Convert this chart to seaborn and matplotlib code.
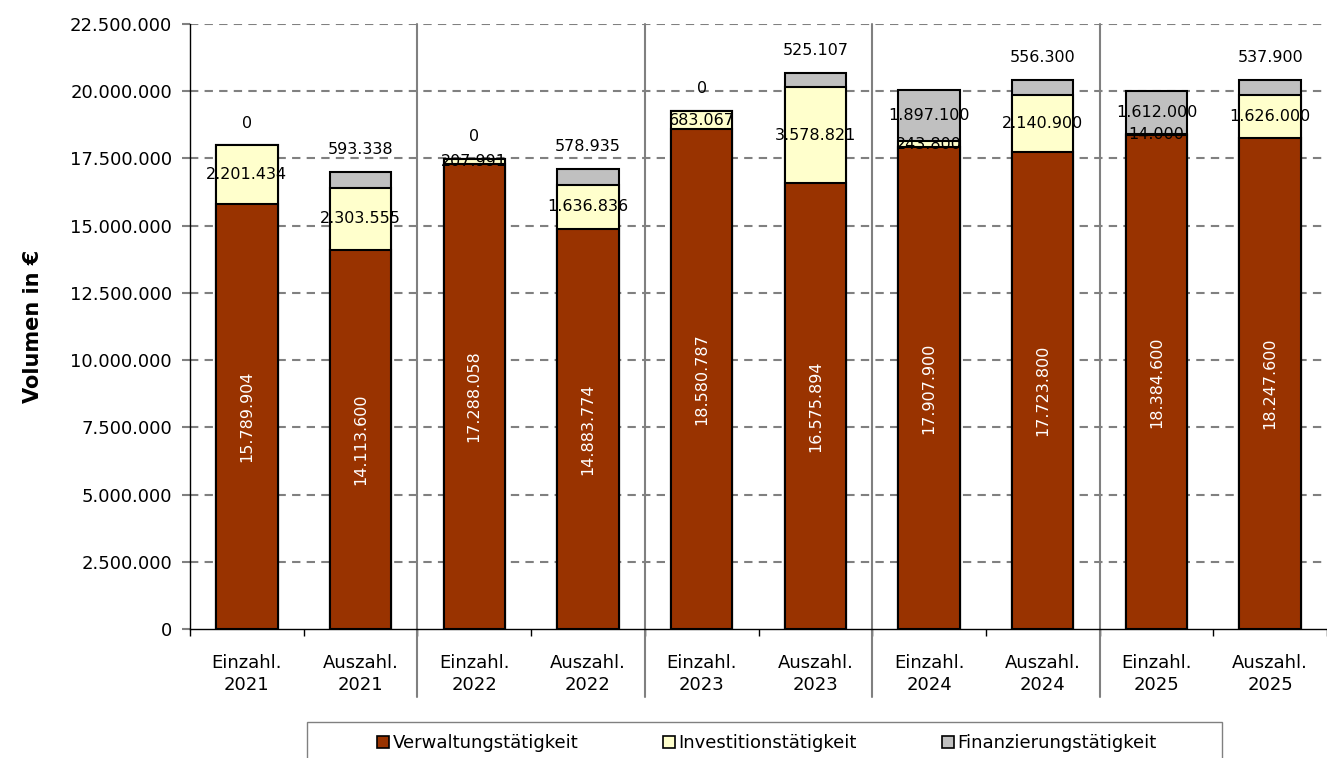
import pandas as pd
import seaborn as sns
import matplotlib
import matplotlib.pyplot as plt
from matplotlib.patches import Patch, Rectangle

matplotlib.use("Agg")

# ----------------------------
# Data (values in EUR)
categories = ["Einzahl.\n2021", "Auszahl.\n2021", "Einzahl.\n2022", "Auszahl.\n2022",
              "Einzahl.\n2023", "Auszahl.\n2023", "Einzahl.\n2024", "Auszahl.\n2024",
              "Einzahl.\n2025", "Auszahl.\n2025"]
verwaltung = [15789904, 14113600, 17288058, 14883774, 18580787,
              16575894, 17907900, 17723800, 18384600, 18247600]
investition = [2201434, 2303555, 207991, 1636836, 683067,
               3578821, 243800, 2140900, 14000, 1626000]
finanzierung = [0, 593338, 0, 578935, 0,
                525107, 1897100, 556300, 1612000, 537900]
series_names = ["Verwaltungstätigkeit", "Investitionstätigkeit", "Finanzierungstätigkeit"]
colors = ["#993300", "#FFFFCC", "#C0C0C0"]
# ----------------------------

sns.set_style("white")
plt.rcParams["font.family"] = ["DejaVu Sans"]
plt.rcParams["text.color"] = "black"
plt.rcParams["xtick.color"] = "black"
plt.rcParams["ytick.color"] = "black"
plt.rcParams["axes.labelcolor"] = "black"

df = pd.DataFrame({
    "cat": categories,
    "V": verwaltung,
    "I": investition,
    "F": finanzierung,
})
df["VI"] = df["V"] + df["I"]
df["VIF"] = df["VI"] + df["F"]

fig = plt.figure(figsize=(13.27, 7.58), dpi=100)
ax = fig.add_axes([190 / 1327, 1 - 629 / 758, 1 - 190 / 1327, (629 - 24) / 758])

# gridlines first (behind bars)
yticks = [i * 2500000 for i in range(10)]
for yv in yticks[1:]:
    ax.axhline(yv, color="#808080", lw=1.5, ls=(0, (4, 3)), zorder=0)

# stacked bars: draw cumulative totals from back to front
bar_kw = dict(order=categories, width=0.54, saturation=1, edgecolor="black",
              linewidth=1.5, ax=ax, zorder=2)
sns.barplot(data=df, x="cat", y="VIF", color=colors[2], **bar_kw)
sns.barplot(data=df, x="cat", y="VI", color=colors[1], **bar_kw)
sns.barplot(data=df, x="cat", y="V", color=colors[0], **bar_kw)


def fmt(v):
    return f"{v:,.0f}".replace(",", ".")


# data labels
for i, row in df.iterrows():
    ax.text(i, row["V"] / 2, fmt(row["V"]), rotation=90, ha="center", va="center",
            color="white", fontsize=11.5, zorder=5)
    ax.text(i, row["V"] + row["I"] / 2, fmt(row["I"]), ha="center", va="center",
            color="black", fontsize=11.5, zorder=5)
    if row["F"] < 1000000:
        ax.annotate(fmt(row["F"]), (i, row["VIF"]), xytext=(0, 16),
                    textcoords="offset points", ha="center", va="center",
                    fontsize=11.5, zorder=5)
    else:
        ax.text(i, row["VI"] + row["F"] / 2, fmt(row["F"]), ha="center", va="center",
                color="black", fontsize=11.5, zorder=5)

# axes styling
ax.set_ylim(0, 22500000)
ax.set_xlim(-0.5, len(categories) - 0.5)
ax.set_yticks(yticks)
ax.set_yticklabels([fmt(v) for v in yticks], fontsize=13)
ax.tick_params(axis="y", direction="out", length=6, width=1.5, color="#808080", pad=7, left=True)
ax.set_xticks(range(len(categories)))
ax.set_xticklabels(categories, fontsize=13, linespacing=1.3)
ax.tick_params(axis="x", which="major", length=0, pad=18)
ax.set_xticks([i - 0.5 for i in range(len(categories) + 1)], minor=True)
ax.tick_params(axis="x", which="minor", direction="out", length=5, width=1, color="black", bottom=True)
ax.set_xlabel("")
ax.set_ylabel("Volumen in €", fontsize=15, fontweight="bold")
ax.yaxis.set_label_coords(-(190 - 43) / (1327 - 190), 0.5)

for side in ["top", "right"]:
    ax.spines[side].set_visible(False)
for side in ["left", "bottom"]:
    ax.spines[side].set_color("black")
    ax.spines[side].set_linewidth(1)
    ax.spines[side].set_zorder(3)

# year separators
for xs in [1.5, 3.5, 5.5, 7.5]:
    ax.plot([xs, xs], [1, -0.112], transform=ax.get_xaxis_transform(),
            color="#808080", lw=1.5, clip_on=False, zorder=1)

# legend with a plain rectangular frame
handles = [Patch(facecolor=c, edgecolor="black", linewidth=1.2) for c in colors]
fig.legend(handles, series_names, loc="center", bbox_to_anchor=(767 / 1327, 1 - 743 / 758),
           ncol=3, frameon=False, fontsize=13, handlelength=0.65, handleheight=0.65,
           handletextpad=0.2, columnspacing=4.7)
fig.patches.append(Rectangle((307 / 1327, -0.02), (1222 - 307) / 1327, 0.02 + (758 - 722) / 758,
                             transform=fig.transFigure, fill=False, edgecolor="#808080", lw=1))

fig.savefig("out.png", dpi=100)
